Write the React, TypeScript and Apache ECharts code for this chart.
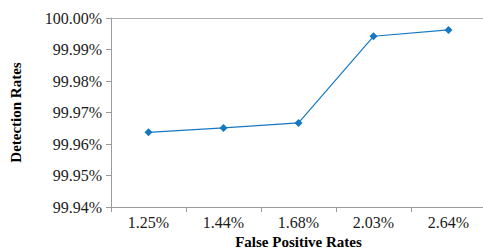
import React, { useEffect, useRef } from "react";
import * as echarts from "echarts";

const categories = ["1.25%", "1.44%", "1.68%", "2.03%", "2.64%"];
const detectionRates = [99.9637, 99.9651, 99.9667, 99.9942, 99.9962];
const yMin = 99.94;
const yMax = 100.0;
const yStep = 0.01;

export default function App() {
  const ref = useRef<HTMLDivElement>(null);
  useEffect(() => {
    if (!ref.current) return;
    const chart = echarts.init(ref.current, null, { renderer: "svg" });
    const font = "'Liberation Serif', 'Times New Roman', serif";
    chart.setOption({
      animation: false,
      backgroundColor: "#ffffff",
      textStyle: { fontFamily: font },
      grid: { left: 111, right: -3, top: 18, bottom: 43, containLabel: false, outerBoundsMode: "none" },
      xAxis: [
        {
          type: "category",
          data: categories,
          boundaryGap: true,
          axisLine: { show: true, lineStyle: { color: "#9a9a9a", width: 1 } },
          axisTick: { show: true, length: 5, alignWithLabel: false, lineStyle: { color: "#9a9a9a" } },
          axisLabel: { color: "#1a1a1a", fontFamily: font, fontSize: 16, margin: 7 },
          name: "False Positive Rates",
          nameLocation: "middle",
          nameGap: 27,
          nameTextStyle: { fontFamily: font, fontSize: 15, fontWeight: "bold", color: "#000", lineHeight: 15 },
          splitLine: { show: false },
        },
        {
          type: "category",
          data: categories,
          position: "top",
          axisLine: { show: true, lineStyle: { color: "#b0b0b0", width: 1 } },
          axisTick: { show: false },
          axisLabel: { show: false },
        },
      ],
      yAxis: {
        type: "value",
        min: yMin,
        max: yMax,
        interval: yStep,
        axisLine: { show: true, lineStyle: { color: "#9a9a9a", width: 1 } },
        axisTick: { show: true, length: 5, inside: false, lineStyle: { color: "#9a9a9a" } },
        axisLabel: {
          color: "#1a1a1a",
          fontFamily: font,
          fontSize: 16,
          margin: 9,
          formatter: (v: number) => v.toFixed(2) + "%",
        },
        splitLine: { show: false },
        name: "Detection Rates",
        nameLocation: "middle",
        nameGap: 88,
        nameRotate: 90,
        nameTextStyle: { fontFamily: font, fontSize: 15, fontWeight: "bold", color: "#000" },
      },
      series: [
        {
          type: "line",
          data: detectionRates,
          symbol: "diamond",
          symbolSize: 8,
          lineStyle: { color: "#1778c2", width: 1.2 },
          itemStyle: { color: "#1778c2" },
        },
      ],
    });
    return () => chart.dispose();
  }, []);
  return <div ref={ref} style={{ width: 483, height: 250, position: "absolute", left: 0, top: 0 }} />;
}
